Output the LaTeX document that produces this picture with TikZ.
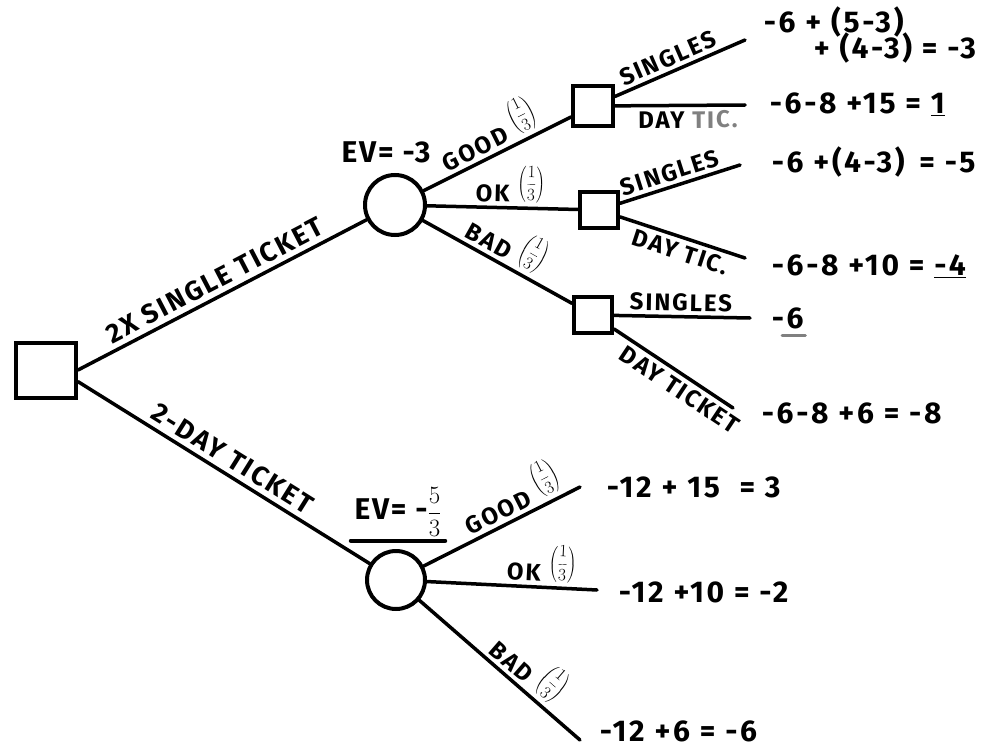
\documentclass[tikz,border=0pt]{standalone}
\usepackage{fontspec}
\setmainfont{Fira Sans}
\newcommand\onethird{\raisebox{\depth}{\fontsize{18}{18}\selectfont$\left(\displaystyle\frac{1}{3}\right)$}}
\begin{document}
\begin{tikzpicture}[x=1pt,y=-1pt,
  line width=3.5pt, line cap=round,
  dnode/.style={draw, rectangle, line width=4pt, inner sep=0pt},
  cnode/.style={draw, circle, line width=4pt, inner sep=0pt, minimum size=60pt},
  lbl/.style={font=\fontsize{24}{24}\selectfont\bfseries\addfontfeatures{LetterSpace=8}, sloped, inner sep=4pt, text depth=0pt},
  biglbl/.style={font=\fontsize{27}{27}\selectfont\bfseries\addfontfeatures{LetterSpace=8}, sloped, inner sep=5pt},
  outc/.style={font=\fontsize{30}{30}\selectfont\bfseries\addfontfeatures{LetterSpace=9}, anchor=west, inner sep=0pt},
  ev/.style={font=\fontsize{30}{30}\selectfont\bfseries\addfontfeatures{LetterSpace=6}, inner sep=1pt}]
\useasboundingbox (0,0) rectangle (984,749);

% nodes
\node[dnode, minimum width=60pt, minimum height=55pt] (root) at (46,370) {};
\node[cnode] (c1) at (395,205) {};
\node[cnode, minimum size=58pt] (c2) at (396,580) {};
\node[dnode, minimum width=40pt, minimum height=39pt] (d1) at (593,106) {};
\node[dnode, minimum width=38pt, minimum height=36pt] (d2) at (599,210) {};
\node[dnode, minimum width=38pt, minimum height=36pt] (d3) at (593,315) {};

\coordinate (e11) at (745,40);
\coordinate (e12) at (745,105);
\coordinate (e21) at (740,165);
\coordinate (e22) at (745,258);
\coordinate (e31) at (750,318);
\coordinate (e32) at (733,408);
\coordinate (g1) at (580,487);
\coordinate (g2) at (597,590);
\coordinate (g3) at (580,740);

% EV labels
\node[ev] (ev1) at (386,152) {EV= -3};
\node[ev, inner sep=2pt] (ev2) at (398,512) {EV= -$\displaystyle\frac{5}{3}$};
\draw[line width=4pt] (ev2.south west) -- (ev2.south east);

% main branches
\draw (root.east) -- node[biglbl, above, pos=0.5] {2X SINGLE TICKET} (c1);
\draw (root.-20) -- node[biglbl, above, pos=0.5] {2-DAY TICKET} (c2);

% chance node 1
\draw (c1) -- node[lbl, above, pos=0.5] {GOOD \onethird} (d1);
\draw (c1) -- node[lbl, above, pos=0.55] {OK \onethird} (d2);
\draw (c1) -- node[lbl, above, pos=0.5] {BAD \onethird} (d3);

% decision nodes
\draw (d1) -- node[lbl, above, pos=0.45] {SINGLES} (e11);
\draw (d1) -- node[lbl, below, pos=0.56] {DAY \textcolor{gray}{TIC.}} (e12);
\draw (d2) -- node[lbl, above, pos=0.45] {SINGLES} (e21);
\draw (d2) -- node[lbl, below, pos=0.52] {DAY TIC.} (e22);
\draw (d3) -- node[lbl, above, pos=0.49] {SINGLES} (e31);
\draw (d3) -- node[lbl, below, pos=0.62] {DAY TICKET} (e32);

% chance node 2
\draw (c2) -- node[lbl, above, pos=0.62] {GOOD \onethird} (g1);
\draw (c2) -- node[lbl, above, pos=0.67] {OK \onethird} (g2);
\draw (c2) -- node[lbl, above, pos=0.6] {BAD \onethird} (g3);

% outcomes
\node[outc] (o11a) at (762,22) {-6 + (5-3)};
\node[outc] (o11b) at (812,48) {+ (4-3) = -3};
\node[outc] (o12) at (768,104) {-6-8 +15 = \underline{1}};
\node[outc] (o21) at (770,162) {-6 +(4-3) \,= -5};
\node[outc] (o22) at (770,266) {-6-8 +10 = \underline{-4}};
\node[outc] (o31) at (770,318) {-6};
\draw[gray, line width=3pt] ([xshift=12pt,yshift=-5pt]o31.south west) -- ([yshift=-5pt]o31.south east);
\node[outc] (o32) at (760,413) {-6-8 +6 = -8};
\node[outc] (o41) at (605,487) {-12 + 15 \ = 3};
\node[outc] (o42) at (617,592) {-12 +10 = -2};
\node[outc] (o43) at (598,731) {-12 +6 = -6};
\end{tikzpicture}
\end{document}
